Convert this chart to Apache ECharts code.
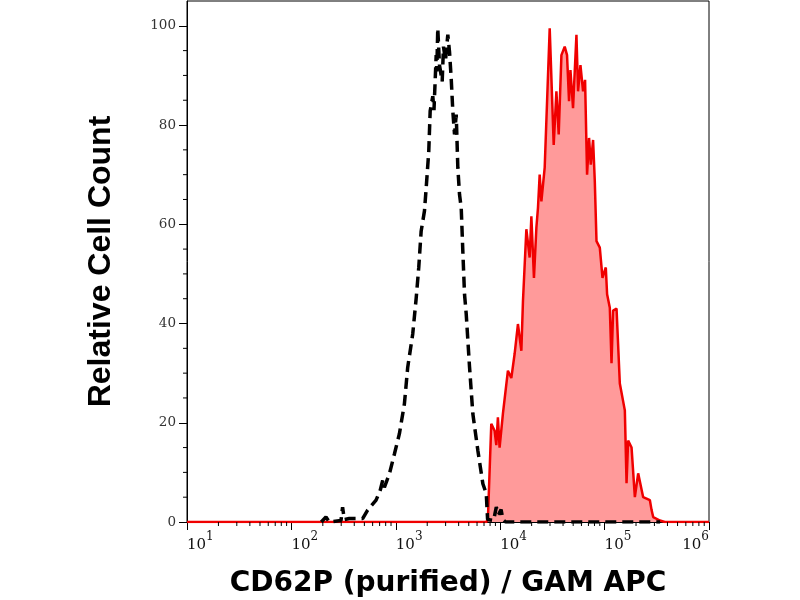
<!DOCTYPE html>
<html>
<head>
<meta charset="utf-8">
<script src="https://cdn.jsdelivr.net/npm/echarts@6/dist/echarts.min.js"></script>
<style>html,body{margin:0;padding:0;background:#fff}#chart{width:800px;height:600px}</style>
</head>
<body>
<div id="chart"></div>
<script>
// Stained sample (red filled histogram): intensity values and relative counts
var redX = [10, 7357, 7621, 8216, 8837, 9176, 9506, 9867, 10614, 11856, 12781, 13748, 14789, 15945, 16520, 17806, 19150, 19885, 21055, 22208, 23006, 23885, 24799, 25696, 26678, 29794, 32543, 34541, 36344, 38582, 41496, 43666, 45640, 47072, 49850, 53737, 55676, 58704, 62191, 65002, 67942, 71014, 73734, 77565, 80538, 83624, 89951, 95454, 102682, 105680, 112177, 116469, 120674, 130122, 139904, 156258, 162260, 168080, 181217, 194898, 209650, 234160, 271517, 281880, 292050, 338740, 378170, 1000000];
var redY = [0, 0, 0.5, 19.8, 18.4, 15.5, 21.1, 15, 21.8, 30.5, 29, 33.9, 39.9, 34.5, 44.5, 59, 53.3, 61.6, 49.2, 59.3, 63.3, 70, 64.6, 64.3, 71.4, 99.5, 76, 86.8, 78.1, 94.1, 95.8, 94.1, 84.8, 91.1, 83.4, 98.2, 86.8, 92.1, 86.8, 89.1, 70, 77.4, 72, 77, 68.7, 56.6, 55.3, 49.2, 51.3, 45.9, 43.2, 32, 42.6, 43, 27.9, 22.5, 7.8, 16.4, 15, 5, 9.8, 5, 4.4, 2.4, 1, 0.3, 0, 0];

// Control (black dashed histogram)
var blackX = [193.2, 214.3, 230.6, 298.5, 309.3, 321.1, 358.6, 481.3, 537.4, 647.1, 711.7, 748.8, 777.5, 868.2, 969.6, 1083, 1209, 1301, 1453, 1566, 1659, 1749, 1882, 1954, 2069, 2134, 2261, 2321, 2437, 2469, 2524, 2620, 2782, 2863, 2992, 3149, 3269, 3394, 3517, 3651, 3791, 3928, 4078, 4233, 4385, 4553, 4727, 5086, 5470, 6109, 6823, 7357, 7572, 8646, 9176, 9652, 10200, 10614, 11268, 340000];
var blackY = [0, 1, 0, 0.3, 3, 0.5, 0.7, 0.7, 2.4, 4.4, 6.5, 8.4, 7, 9.7, 13.7, 17.8, 23.8, 31.2, 37.9, 45, 51.3, 58.6, 62.7, 67.3, 74.7, 82.8, 85.8, 83, 94.1, 90.8, 99.5, 92.1, 88.8, 95.8, 93, 98.2, 94.8, 89.4, 82.8, 78.1, 82.1, 71.4, 66, 63.3, 54.6, 45.9, 41.9, 31.2, 21.8, 14.4, 7.7, 5.7, 0.5, 0.3, 3, 1.5, 2.5, 0.5, 0, 0];

// Axis ticks
var xMajorTicks = [10, 100, 1000, 10000, 100000, 1000000];
var xDecades = [10, 100, 1000, 10000, 100000];
var xMinorMultipliers = [2, 3, 4, 5, 6, 7, 8, 9];
var yTickValues = [0, 20, 40, 60, 80, 100];
var yMinorValues = [5, 10, 15, 25, 30, 35, 45, 50, 55, 65, 70, 75, 85, 90, 95];

function pairs(xs, ys) { return xs.map(function (x, i) { return [x, ys[i]]; }); }
var xMinorData = [];
xDecades.forEach(function (d) { xMinorMultipliers.forEach(function (m) { xMinorData.push([d * m, 0]); }); });
var yMinorData = yMinorValues.map(function (v) { return [10, v]; });

var chart = echarts.init(document.getElementById('chart'));
chart.setOption({
  animation: false,
  backgroundColor: '#fff',
  grid: { left: 187, right: 91, top: 1, bottom: 78, show: true, borderColor: '#000', borderWidth: 1, containLabel: false, outerBoundsMode: 'none' },
  xAxis: {
    type: 'log', logBase: 10, min: 10, max: 1000000,
    name: 'CD62P (purified) / GAM APC',
    nameLocation: 'middle', nameGap: 48,
    nameTextStyle: { fontFamily: 'DejaVu Sans', fontWeight: 'bold', fontSize: 28, color: '#000' },
    axisLine: { lineStyle: { color: '#000', width: 1 } },
    axisTick: { show: true, length: 8, lineStyle: { color: '#000', width: 1 } },
    splitLine: { show: false },
    axisLabel: {
      align: 'left', alignMaxLabel: 'right', margin: 9,
      formatter: function (v) { var e = Math.round(Math.log10(v)); return '{b|10}{s|' + e + '}'; },
      rich: {
        b: { fontFamily: 'DejaVu Serif', fontSize: 15, color: '#111', verticalAlign: 'bottom', lineHeight: 22 },
        s: { fontFamily: 'DejaVu Serif', fontSize: 12, color: '#111', verticalAlign: 'top', lineHeight: 22 }
      }
    }
  },
  yAxis: {
    type: 'value', min: 0, max: 105,
    name: 'Relative Cell Count',
    nameLocation: 'middle', nameGap: 70,
    nameTextStyle: { fontFamily: 'Liberation Sans', fontWeight: 'bold', fontSize: 32, color: '#000' },
    axisLine: { show: true, lineStyle: { color: '#000', width: 1 } },
    axisTick: { show: true, length: 8, customValues: yTickValues, lineStyle: { color: '#000', width: 1 } },
    splitLine: { show: false },
    axisLabel: { customValues: yTickValues, margin: 11, fontFamily: 'DejaVu Serif', fontSize: 13.5, color: '#333' }
  },
  series: [
    {
      type: 'line', data: pairs(redX, redY), showSymbol: false, symbol: 'none',
      lineStyle: { color: '#f00000', width: 2.5 },
      areaStyle: { color: '#ff9a9a', opacity: 1 },
      z: 2
    },
    {
      type: 'line', data: pairs(blackX, blackY), showSymbol: false, symbol: 'none',
      lineStyle: { color: '#000', width: 3.5, type: [11, 6] },
      z: 3
    },
    {
      type: 'custom', data: xMinorData, clip: false, silent: true, z: 4,
      renderItem: function (params, api) {
        var p = api.coord([api.value(0), 0]);
        return { type: 'line', shape: { x1: p[0], y1: p[1], x2: p[0], y2: p[1] + 4 }, style: { stroke: '#000', lineWidth: 1 } };
      }
    },
    {
      type: 'custom', data: yMinorData, clip: false, silent: true, z: 4,
      renderItem: function (params, api) {
        var p = api.coord([10, api.value(1)]);
        return { type: 'line', shape: { x1: p[0] - 4, y1: p[1], x2: p[0], y2: p[1] }, style: { stroke: '#000', lineWidth: 1 } };
      }
    }
  ]
});
</script>
</body>
</html>
